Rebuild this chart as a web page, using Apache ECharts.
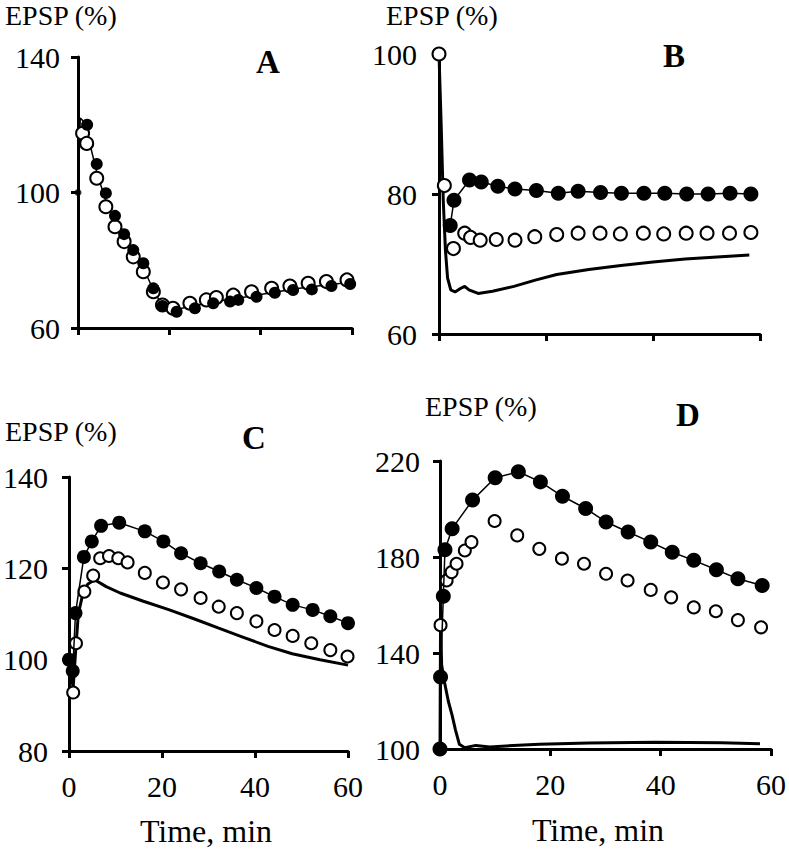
<!DOCTYPE html>
<html>
<head>
<meta charset="utf-8">
<script src="https://cdn.jsdelivr.net/npm/echarts@6/dist/echarts.min.js"></script>
<style>
html,body{margin:0;padding:0;background:#fff;}
#chart{width:789px;height:853px;}
</style>
</head>
<body>
<div id="chart"></div>
<script>
// ---------- DATA ----------
var xTicks = [0, 20, 40, 60];
var aYTicks = [60, 100, 140];
var bYTicks = [60, 80, 100];
var cYTicks = [80, 100, 120, 140];
var dYTicks = [100, 140, 180, 220];

// Panel A
var aFilledT = [2.0, 4.1, 6.1, 8.1, 10.1, 12.1, 14.3, 16.5, 18.5, 21.6, 25.6, 29.6, 33.3, 35.1, 39.1, 43.1, 47.1, 51.2, 55.5, 59.6];
var aFilledY = [120, 108.4, 99.8, 93.1, 87.7, 83, 79.1, 71.7, 66.5, 64.8, 65.8, 67.3, 67.8, 68.3, 69.2, 70.4, 71.2, 71.4, 72.4, 73];
var aOpenT = [1.0, 1.9, 4.1, 6.1, 8.1, 10.1, 12.1, 14.3, 16.5, 18.5, 20.8, 24.5, 28.1, 30.3, 34, 38, 42.4, 46.4, 50.4, 54.4, 58.9];
var aOpenY = [117.5, 114.5, 104.2, 95.8, 89.9, 85.5, 81, 76.6, 70.7, 66.8, 65.8, 67.3, 68.3, 69, 69.7, 70.7, 71.7, 72.4, 73.2, 73.7, 74.2];
var aLineT = [0, 0.5, 1.2, 2.3, 4.1, 6.1, 8.1, 10.1, 12.1, 14.3, 16.5, 18.5, 21, 25, 30, 35, 40, 45, 50, 55, 60];
var aLineY = [100, 122, 121, 116, 106, 97.5, 91.5, 86.5, 82, 77.8, 71.2, 66.6, 65.3, 66.5, 67.8, 68.8, 69.9, 71, 72, 72.8, 73.6];
var aStartT = [0];
var aStartY = [100];

// Panel B
var bFilledT = [2.1, 2.8, 5.7, 7.9, 11, 14.2, 18.2, 22.3, 26, 30.2, 34.1, 38.3, 42.2, 46.3, 50.3, 54.4, 58.3];
var bFilledY = [75.5, 79.1, 82, 81.7, 81.1, 80.7, 80.5, 80.1, 80.4, 80.2, 80.1, 80.1, 80.1, 80, 80, 80.1, 80];
var bOpenT = [0, 1.0, 2.7, 4.8, 5.9, 7.7, 10.7, 14.2, 17.9, 22, 26, 30.1, 33.9, 38.2, 42, 46.2, 50.1, 54.3, 58.3];
var bOpenY = [100, 81.2, 72.2, 74.4, 73.8, 73.4, 73.5, 73.4, 73.9, 74.2, 74.4, 74.4, 74.3, 74.4, 74.3, 74.4, 74.4, 74.4, 74.5];
var bLineT = [0, 0.4, 0.8, 1.2, 1.6, 2.2, 3, 4, 4.8, 5.6, 7.3, 10, 14, 18, 22, 28, 34, 40, 46, 52, 58];
var bLineY = [100, 90, 79, 72, 68, 66.3, 66, 66.5, 66.8, 66.3, 65.8, 66.1, 66.8, 67.7, 68.5, 69.2, 69.8, 70.3, 70.7, 71, 71.3];

// Panel C
var cFilledT = [0, 0.8, 1.4, 3.2, 4.9, 6.9, 10.8, 16.3, 20.3, 24.1, 28.3, 32.3, 36.1, 40.3, 44.2, 48.1, 52.4, 56.2, 60];
var cFilledY = [100, 97.5, 110.2, 122.5, 125.9, 129.3, 130, 128.1, 125.9, 123.3, 121.1, 119.3, 117.5, 115.7, 113.8, 112, 110.9, 109.5, 108];
var cOpenT = [0.9, 1.5, 3.3, 5.2, 6.7, 8.6, 10.6, 12.6, 16.3, 20.2, 24.1, 28.3, 32.2, 36.1, 40.3, 44.2, 48.1, 52.1, 56.2, 59.9];
var cOpenY = [92.8, 103.6, 114.9, 118.4, 122.2, 122.7, 122.2, 121.3, 119, 116.9, 115.4, 113.5, 111.6, 110.2, 108.4, 106.5, 105.2, 103.6, 102.1, 100.7];
var cLineT = [0, 0.5, 0.9, 1.3, 2, 3, 4, 5.5, 8, 11, 16, 21.6, 27, 32.2, 37.5, 42.8, 48, 54, 60];
var cLineY = [100, 96, 94, 100, 110, 114.5, 116.5, 117.5, 116, 114.6, 112.8, 110.9, 108.9, 106.9, 104.9, 102.9, 101.3, 100, 98.8];

// Panel D
var dFilledT = [0, 0.1, 0.6, 0.9, 2.2, 5.9, 10, 14.2, 18.2, 22.2, 26.4, 30.1, 34.1, 38.2, 42.1, 46, 50.1, 54, 58.4];
var dFilledY = [100, 130, 163.6, 183, 191.8, 203.7, 213, 215.5, 211.3, 205.3, 200.2, 194.6, 190.4, 186.2, 182, 178.6, 174.7, 170.9, 168.1];
var dOpenT = [0.1, 1.2, 2.1, 3, 4.5, 5.7, 9.9, 14, 18, 22.1, 26.1, 30.1, 34, 38.2, 41.9, 46, 50, 54, 58.2];
var dOpenY = [151.6, 170.2, 173.7, 177.2, 182.7, 186.2, 195, 189, 183.4, 179.3, 177.2, 173, 170.2, 166.3, 163.2, 159, 157.4, 153.7, 150.7];
var dLineT = [0, 0.1, 0.3, 0.8, 1.5, 2.2, 2.8, 3.5, 4.5, 6.5, 9, 12, 18, 27, 39, 51, 58];
var dLineY = [100, 152, 135, 128, 120, 114, 108, 102, 100.5, 101.5, 100.8, 101.3, 102, 102.5, 102.8, 102.6, 102.2];

var yLabelText = 'EPSP (%)';
var xLabelText = 'Time, min';
var panelLetters = ['A', 'B', 'C', 'D'];

// ---------- CHART ----------
function zip(t, y) { return t.map(function (v, i) { return [v, y[i]]; }); }
var FAMILY = 'Liberation Serif';
var FONTSTACK = '"Liberation Serif", serif';

var grids = [
  { left: 78, top: 57, width: 274, height: 271 },
  { left: 439, top: 54, width: 321, height: 280 },
  { left: 65, top: 477, width: 283, height: 274 },
  { left: 440, top: 461, width: 335, height: 288 }
];
var yRanges = [[60, 140, 40, aYTicks, 18], [60, 100, 20, bYTicks, 22], [80, 140, 20, cYTicks, 21], [100, 220, 40, dYTicks, 20]];

var xAxes = grids.map(function (g, i) {
  return {
    type: 'value', gridIndex: i, min: 0, max: 60, interval: 20,
    axisLine: { show: true, lineStyle: { color: '#000', width: 3 } },
    axisTick: { show: true, inside: false, length: 7, lineStyle: { color: '#000', width: 3 }, customValues: xTicks },
    axisLabel: { show: i >= 2, margin: 20, color: '#000', fontFamily: FAMILY, fontSize: 30, customValues: xTicks },
    splitLine: { show: false }
  };
});
var yAxes = grids.map(function (g, i) {
  var r = yRanges[i];
  return {
    type: 'value', gridIndex: i, min: r[0], max: r[1], interval: r[2],
    axisLine: { show: true, lineStyle: { color: '#000', width: 3 } },
    axisTick: { show: true, inside: false, length: 7, lineStyle: { color: '#000', width: 3 }, customValues: r[3] },
    axisLabel: { show: true, margin: r[4], color: '#000', fontFamily: FAMILY, fontSize: 30, customValues: r[3] },
    splitLine: { show: false }
  };
});

function modelLine(i, t, y) {
  return { type: 'line', xAxisIndex: i, yAxisIndex: i, data: zip(t, y), showSymbol: false, symbol: 'none',
    clip: false, lineStyle: { color: '#000', width: 3 }, z: 2, animation: false };
}
function thinLine(i, t, y) {
  return { type: 'line', xAxisIndex: i, yAxisIndex: i, data: zip(t, y), showSymbol: false, symbol: 'none',
    clip: false, lineStyle: { color: '#000', width: 1.5 }, z: 2, animation: false };
}
function filled(i, t, y, size, withLine) {
  return { type: 'line', xAxisIndex: i, yAxisIndex: i, data: zip(t, y), symbol: 'circle', symbolSize: size,
    showSymbol: true, clip: false, itemStyle: { color: '#000', borderWidth: 0 },
    lineStyle: { color: '#000', width: withLine ? 1.5 : 0, opacity: withLine ? 1 : 0 }, z: 4, animation: false };
}
function open(i, t, y, size) {
  return { type: 'scatter', xAxisIndex: i, yAxisIndex: i, data: zip(t, y), symbol: 'circle', symbolSize: size,
    clip: false, itemStyle: { color: '#fff', borderColor: '#000', borderWidth: 2, opacity: 1 }, z: 3, animation: false };
}
function smallMark(i, t, y) {
  return { type: 'scatter', xAxisIndex: i, yAxisIndex: i, data: zip(t, y), symbol: 'circle', symbolSize: 7,
    clip: false, itemStyle: { color: '#000' }, z: 5, animation: false };
}

var series = [
  thinLine(0, aLineT, aLineY),
  open(0, aOpenT, aOpenY, 13),
  filled(0, aFilledT, aFilledY, 12, false),
  smallMark(0, aStartT, aStartY),
  modelLine(1, bLineT, bLineY),
  filled(1, bFilledT, bFilledY, 15, true),
  open(1, bOpenT, bOpenY, 13),
  modelLine(2, cLineT, cLineY),
  open(2, cOpenT, cOpenY, 12),
  filled(2, cFilledT, cFilledY, 14, true),
  modelLine(3, dLineT, dLineY),
  open(3, dOpenT, dOpenY, 12),
  filled(3, dFilledT, dFilledY, 15, true)
];
series[6].z = 5;

function txt(s, x, y, size, bold, align) {
  return { type: 'text', x: x, y: y, z: 10, style: {
    text: s, fill: '#000', font: (bold ? 'bold ' : '') + size + 'px ' + FONTSTACK,
    align: align, verticalAlign: 'middle', textAlign: align, textVerticalAlign: 'middle' } };
}
var graphics = [
  txt(yLabelText, 5, 15, 28, false, 'left'),
  txt(yLabelText, 386, 15, 28, false, 'left'),
  txt(yLabelText, 5, 431, 28, false, 'left'),
  txt(yLabelText, 425, 406, 28, false, 'left'),
  txt(panelLetters[0], 268, 62, 33, true, 'center'),
  txt(panelLetters[1], 674, 56, 33, true, 'center'),
  txt(panelLetters[2], 254, 438, 33, true, 'center'),
  txt(panelLetters[3], 688, 415, 33, true, 'center'),
  txt(xLabelText, 206, 831, 32, false, 'center'),
  txt(xLabelText, 598, 830, 32, false, 'center')
];

var chart = echarts.init(document.getElementById('chart'), null, { renderer: 'svg' });
chart.setOption({
  animation: false,
  backgroundColor: '#fff',
  grid: grids,
  xAxis: xAxes,
  yAxis: yAxes,
  series: series,
  graphic: graphics
});
</script>
</body>
</html>
